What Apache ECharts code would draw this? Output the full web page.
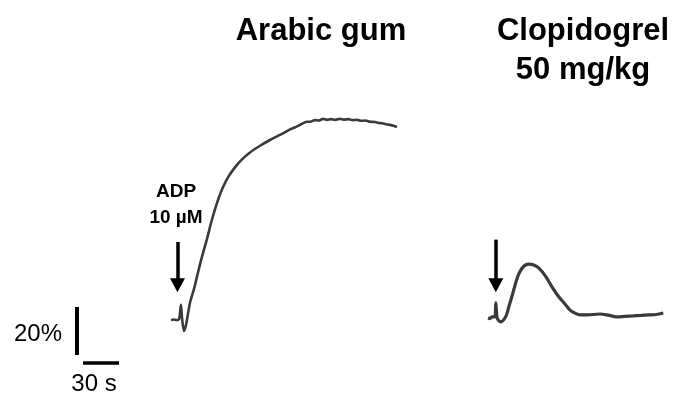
<!DOCTYPE html>
<html>
<head>
<meta charset="utf-8">
<script src="https://cdn.jsdelivr.net/npm/echarts@6/dist/echarts.min.js"></script>
<style>
  html, body { margin: 0; padding: 0; background: #ffffff; }
  #chart { width: 675px; height: 398px; }
</style>
</head>
<body>
<div id="chart"></div>
<script>
// Aggregation traces: [time after start (s), light transmission (%)]
const arabicGumTrace = [
  [0, 0], [2.5, 0.2], [4.2, 0], [6.7, 0.4], [8.3, 6.3], [9.2, 0.8], [10.8, -4.6], [12.5, -2.1],
  [15.8, 7.1], [19.2, 13.0], [22.5, 19.8], [25.8, 26.3], [30.0, 33.8], [33.3, 40.3],
  [36.7, 46.2], [40.0, 51.2], [43.3, 55.3], [47.5, 59.4], [53.3, 63.6], [59.2, 66.9],
  [65.8, 69.8], [74.2, 72.6], [82.5, 75.0], [90.8, 77.1], [99.2, 79.4], [103.0, 80.2],
  [107.5, 81.3], [113.3, 82.6], [116.0, 82.6], [120.0, 83.3], [123.0, 83.1], [126.7, 83.8],
  [130.0, 83.4], [133.0, 83.7], [137.0, 83.4], [140.8, 83.8], [144.0, 83.5], [148.0, 83.7],
  [151.0, 83.3], [155.0, 83.4], [158.0, 83.0], [162.0, 83.1], [166.0, 82.6], [170.0, 82.5],
  [173.0, 82.1], [176.0, 82.0], [179.0, 81.6], [182.5, 81.3], [185.5, 80.9], [188.3, 80.4]
];
const clopidogrelTrace = [
  [0, 0.8], [1.7, 0.6], [3.3, 1.3], [5.8, 1.3], [6.7, 7.1], [7.9, 0.8], [10.8, -0.8], [13.3, 0],
  [15.8, 2.1], [18.3, 6.3], [20.8, 10.4], [24.2, 16.3], [26.7, 19.6], [30.8, 22.5],
  [35.0, 23.3], [39.2, 22.9], [43.3, 21.7], [49.2, 18.3], [54.2, 14.2], [60.0, 10.0],
  [65.8, 6.7], [70.0, 4.2], [74.2, 2.9], [79.2, 2.1], [85.0, 2.1], [95.8, 2.5],
  [103.0, 2.0], [110.0, 1.3], [117.0, 1.5], [124.2, 1.7], [131.0, 1.9], [137.5, 2.1],
  [144.0, 2.3], [150.0, 2.9]
];
// ADP addition: [time (s), arrow top (%), arrow end (%)]
const adpArrowA = [5.4, 32.5, 14.5];
const adpArrowB = [6.7, 33.5, 14.5];

// Scale bars
const scalePercent = 20;
const scaleSeconds = 30;

const panelTitles = ['Arabic gum', 'Clopidogrel\n50 mg/kg'];
const agonistLabel = 'ADP\n10 µM';

// 1.2 px per second, 2.4 px per percent
const PX_PER_S = 1.2, PX_PER_PCT = 2.4;
const Y_MIN = -10, Y_MAX = 100;
const gridTop = 80, gridHeight = (Y_MAX - Y_MIN) * PX_PER_PCT;

const hiddenAxis = (min, max, idx) => ({ type: 'value', gridIndex: idx, min, max, show: false });

const traceColor = '#3a3a3a';
const arrowLine = (a) => ({
  silent: true,
  symbol: ['none', 'triangle'],
  symbolSize: [15, 14],
  label: { show: false },
  lineStyle: { color: '#000', width: 3.5, type: 'solid' },
  data: [[{ coord: [a[0], a[1]] }, { coord: [a[0], a[2]] }]]
});

const FONT = '"Liberation Sans", Arial, Helvetica, sans-serif';

const chart = echarts.init(document.getElementById('chart'), null, { renderer: 'canvas' });
chart.setOption({
  animation: false,
  backgroundColor: '#ffffff',
  grid: [
    { left: 171, top: gridTop, width: 190 * PX_PER_S, height: gridHeight },
    { left: 488, top: gridTop, width: 160 * PX_PER_S, height: gridHeight },
    { left: 71, top: 283, width: 50 * PX_PER_S, height: 40 * PX_PER_PCT }
  ],
  xAxis: [hiddenAxis(0, 190, 0), hiddenAxis(0, 160, 1), hiddenAxis(-10, 40, 2)],
  yAxis: [hiddenAxis(Y_MIN, Y_MAX, 0), hiddenAxis(Y_MIN, Y_MAX, 1), hiddenAxis(-10, 30, 2)],
  series: [
    {
      type: 'line', xAxisIndex: 0, yAxisIndex: 0, data: arabicGumTrace,
      showSymbol: false, smooth: 0.25,
      lineStyle: { color: traceColor, width: 2.6 },
      markLine: arrowLine(adpArrowA)
    },
    {
      type: 'line', xAxisIndex: 1, yAxisIndex: 1, data: clopidogrelTrace,
      showSymbol: false, smooth: 0.3,
      lineStyle: { color: traceColor, width: 3.2 },
      markLine: arrowLine(adpArrowB)
    },
    {
      type: 'line', xAxisIndex: 2, yAxisIndex: 2,
      data: [[-5, 0], [-5, scalePercent]],
      showSymbol: false, lineStyle: { color: '#000', width: 4 }
    },
    {
      type: 'line', xAxisIndex: 2, yAxisIndex: 2,
      data: [[0, -3.3], [scaleSeconds, -3.3]],
      showSymbol: false, lineStyle: { color: '#000', width: 3.5 }
    }
  ],
  graphic: [
    {
      type: 'text', style: {
        text: panelTitles[0], x: 321, y: 31, align: 'center', verticalAlign: 'middle',
        font: 'bold 31px ' + FONT, fill: '#000'
      }
    },
    {
      type: 'text', style: {
        text: panelTitles[1], x: 583, y: 50.5, align: 'center', verticalAlign: 'middle',
        font: 'bold 31px ' + FONT, fill: '#000', lineHeight: 39
      }
    },
    {
      type: 'text', style: {
        text: agonistLabel, x: 176, y: 205, align: 'center', verticalAlign: 'middle',
        font: 'bold 19px ' + FONT, fill: '#000', lineHeight: 26
      }
    },
    {
      type: 'text', style: {
        text: scalePercent + '%', x: 62, y: 334, align: 'right', verticalAlign: 'middle',
        font: '24px ' + FONT, fill: '#000'
      }
    },
    {
      type: 'text', style: {
        text: scaleSeconds + ' s', x: 94, y: 384, align: 'center', verticalAlign: 'middle',
        font: '24px ' + FONT, fill: '#000'
      }
    }
  ]
});
</script>
</body>
</html>
